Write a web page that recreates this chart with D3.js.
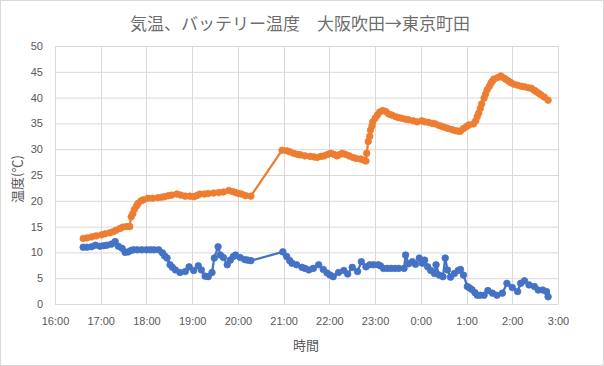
<!DOCTYPE html>
<html lang="ja">
<head>
    <meta charset="UTF-8">
    <title>気温、バッテリー温度 大阪吹田→東京町田</title>
    <script src="https://d3js.org/d3.v7.min.js"></script>
    <style>
        body {
            margin: 0;
            background-color: #ffffff;
        }
        .tick text {
            font-family: "Liberation Sans", Arial, sans-serif;
            font-size: 11px;
            fill: #595959;
        }
        .label {
            font-family: "Noto Sans CJK JP", sans-serif;
            fill: #595959;
        }
    </style>
</head>
<body>
    <svg id="chart" width="604" height="366"></svg>

    <script>
        const width = 604;
        const height = 366;
        const margin = { top: 46, right: 46, bottom: 62, left: 55 };

        // Battery temperature (orange)
        const batteryTimes = [
            "16:37", "16:42", "16:48", "16:54", "17:01", "17:06", "17:12", "17:16", "17:20", "17:25",
            "17:29", "17:34", "17:38", "17:40", "17:42", "17:44", "17:47", "17:49", "17:53", "17:56",
            "18:02", "18:08", "18:15", "18:20", "18:24", "18:29", "18:33", "18:40", "18:45", "18:51",
            "18:57", "19:02", "19:06", "19:10", "19:16", "19:21", "19:28", "19:35", "19:41", "19:48",
            "19:53", "19:57", "20:01", "20:05", "20:10", "20:17",
            "20:58", "21:04", "21:08", "21:13", "21:18", "21:22", "21:28", "21:35", "21:40", "21:44",
            "21:49", "21:53", "21:58", "22:02", "22:06", "22:10", "22:14", "22:17", "22:21", "22:26",
            "22:31", "22:35", "22:41", "22:45", "22:48", "22:49", "22:51", "22:53", "22:54", "22:56",
            "22:57", "23:00", "23:03", "23:06", "23:10", "23:14", "23:18", "23:22", "23:27", "23:31",
            "23:35", "23:40", "23:44", "23:50", "23:55", "0:01", "0:05", "0:10", "0:15", "0:19",
            "0:24", "0:28", "0:32", "0:36", "0:41", "0:45", "0:49", "0:52", "0:56", "1:00",
            "1:03", "1:09", "1:12", "1:14", "1:16", "1:18", "1:20", "1:23", "1:25", "1:27",
            "1:30", "1:32", "1:34", "1:36", "1:41", "1:45", "1:49", "1:52", "1:55", "1:58",
            "2:02", "2:07", "2:12", "2:16", "2:21", "2:25", "2:29", "2:32", "2:35", "2:38",
            "2:42", "2:47"
        ];
        const batteryTemps = [
            12.7, 12.8, 13.0, 13.2, 13.4, 13.6, 13.8, 14.0, 14.3, 14.6,
            14.9, 15.0, 15.0, 16.9, 17.5, 18.3, 19.0, 19.5, 20.0, 20.2,
            20.5, 20.5, 20.6, 20.7, 20.8, 21.0, 21.1, 21.3, 21.1, 20.9,
            20.9, 20.8, 21.0, 21.3, 21.3, 21.4, 21.5, 21.6, 21.7, 22.0,
            21.8, 21.6, 21.4, 21.3, 21.0, 20.9,
            29.8, 29.7, 29.5, 29.2, 29.0, 28.9, 28.7, 28.6, 28.5, 28.4,
            28.6, 28.7, 29.0, 29.2, 29.0, 28.7, 29.0, 29.2, 29.0, 28.7,
            28.4, 28.2, 28.1, 27.9, 27.7, 29.2, 31.5, 32.5, 33.7, 34.5,
            35.3, 36.0, 36.6, 37.2, 37.5, 37.3, 36.8, 36.6, 36.3, 36.1,
            36.0, 35.8, 35.7, 35.5, 35.3, 35.5, 35.3, 35.2, 35.0, 34.9,
            34.6, 34.4, 34.2, 34.0, 33.8, 33.6, 33.5, 33.5, 34.0, 34.4,
            34.7, 34.9, 35.5, 36.3, 37.0, 37.9, 38.8, 39.9, 40.7, 41.5,
            42.2, 42.8, 43.2, 43.6, 43.9, 44.2, 43.8, 43.5, 43.2, 42.9,
            42.6, 42.4, 42.2, 42.1, 41.9, 41.8, 41.4, 41.1, 40.8, 40.5,
            40.1, 39.5
        ];

        // Air temperature (blue)
        const airTimes = [
            "16:37", "16:42", "16:48", "16:53", "16:59", "17:04", "17:08", "17:14", "17:19", "17:23",
            "17:28", "17:32", "17:36", "17:40", "17:43", "17:48", "17:54", "18:00", "18:05", "18:10",
            "18:16", "18:21", "18:24", "18:27", "18:31", "18:34", "18:38", "18:44", "18:51", "18:56",
            "19:02", "19:08", "19:12", "19:17", "19:21", "19:26", "19:29", "19:34", "19:37", "19:41",
            "19:46", "19:50", "19:54", "19:57", "20:03", "20:09", "20:13", "20:17",
            "20:59", "21:04", "21:08", "21:11", "21:17", "21:24", "21:28", "21:33", "21:39", "21:46",
            "21:52", "21:57", "22:01", "22:05", "22:12", "22:19", "22:24", "22:30", "22:37", "22:42",
            "22:48", "22:53", "22:58", "23:04", "23:07", "23:11", "23:16", "23:21", "23:26", "23:31",
            "23:38", "23:40", "23:44", "23:49", "23:53", "23:58", "0:02", "0:05", "0:09", "0:13",
            "0:18", "0:20", "0:24", "0:29", "0:32", "0:35", "0:39", "0:44", "0:49", "0:52",
            "0:56", "1:01", "1:04", "1:07", "1:11", "1:14", "1:18", "1:23", "1:28", "1:34",
            "1:40", "1:47", "1:53", "2:00", "2:07", "2:11", "2:16", "2:22", "2:29", "2:34",
            "2:40", "2:45", "2:47"
        ];
        const airTemps = [
            11.0, 11.0, 11.1, 11.4, 11.2, 11.3, 11.4, 11.6, 12.1, 11.2,
            10.8, 10.0, 10.1, 10.4, 10.5, 10.5, 10.5, 10.5, 10.5, 10.5,
            10.5, 9.9, 9.3, 8.9, 7.6, 7.1, 6.6, 6.1, 6.3, 7.2,
            6.5, 7.4, 6.6, 5.4, 5.3, 6.1, 8.9, 11.1, 9.5, 9.0,
            7.6, 8.5, 9.2, 9.5, 9.0, 8.6, 8.5, 8.4,
            10.1, 9.2, 8.4, 7.9, 7.6, 7.1, 6.9, 6.6, 6.9, 7.6,
            6.7, 6.0, 5.6, 5.3, 6.1, 6.5, 5.8, 7.1, 6.3, 8.2,
            7.2, 7.6, 7.6, 7.6, 7.4, 6.9, 6.9, 6.9, 6.9, 6.9,
            6.9, 9.5, 7.8, 8.2, 7.7, 8.9, 7.9, 8.5, 7.2, 6.5,
            5.9, 7.6, 5.6, 5.3, 8.9, 6.6, 5.2, 5.9, 6.5, 6.7,
            5.6, 3.4, 3.1, 2.8, 2.2, 1.7, 1.7, 1.7, 2.6, 2.1,
            1.7, 2.1, 4.0, 3.2, 2.4, 4.0, 4.5, 3.7, 3.4, 2.7,
            2.7, 2.4, 1.4
        ];

        const yTicks = [0, 5, 10, 15, 20, 25, 30, 35, 40, 45, 50];

        // times before 16:00 belong to the next day
        function parseTime(s) {
            const [h, m] = s.split(":").map(Number);
            return new Date(2020, 0, h < 12 ? 2 : 1, h, m);
        }

        const battery = batteryTimes.map((t, i) => ({ t: parseTime(t), v: batteryTemps[i] }));
        const air = airTimes.map((t, i) => ({ t: parseTime(t), v: airTemps[i] }));

        const svg = d3.select("#chart");

        svg.append("rect")
            .attr("x", 0.5).attr("y", 0.5)
            .attr("width", width - 1).attr("height", height - 1)
            .attr("fill", "#fff")
            .attr("stroke", "#d9d9d9");

        const x = d3.scaleTime()
            .domain([new Date(2020, 0, 1, 16, 0), new Date(2020, 0, 2, 3, 0)])
            .range([margin.left, width - margin.right]);

        const y = d3.scaleLinear()
            .domain([0, 50])
            .range([height - margin.bottom, margin.top]);

        const xTicks = d3.timeHour.range(x.domain()[0], d3.timeMinute.offset(x.domain()[1], 1));

        // Gridlines
        svg.append("g")
            .selectAll("line.h")
            .data(yTicks)
            .join("line")
            .attr("x1", margin.left).attr("x2", width - margin.right)
            .attr("y1", d => y(d) + 0.5).attr("y2", d => y(d) + 0.5)
            .attr("stroke", "#d9d9d9");

        svg.append("g")
            .selectAll("line.v")
            .data(xTicks)
            .join("line")
            .attr("x1", d => Math.round(x(d)) + 0.5).attr("x2", d => Math.round(x(d)) + 0.5)
            .attr("y1", margin.top).attr("y2", height - margin.bottom)
            .attr("stroke", "#d9d9d9");

        // Axes (labels only)
        const xAxis = svg.append("g")
            .attr("transform", `translate(0,${height - margin.bottom})`)
            .call(d3.axisBottom(x).tickValues(xTicks).tickFormat(d3.timeFormat("%-H:%M")).tickSize(0).tickPadding(13));
        xAxis.select(".domain").remove();

        const yAxis = svg.append("g")
            .attr("transform", `translate(${margin.left},0)`)
            .call(d3.axisLeft(y).tickValues(yTicks).tickSize(0).tickPadding(12));
        yAxis.select(".domain").remove();

        // Series
        const line = d3.line().x(d => x(d.t)).y(d => y(d.v));
        const series = [
            { data: air, color: "#4472C4" },
            { data: battery, color: "#ED7D31" }
        ];

        series.forEach(s => {
            svg.append("path")
                .datum(s.data)
                .attr("d", line)
                .attr("fill", "none")
                .attr("stroke", s.color)
                .attr("stroke-width", 2.25)
                .attr("stroke-linejoin", "round");

            svg.append("g")
                .selectAll("circle")
                .data(s.data)
                .join("circle")
                .attr("cx", d => x(d.t))
                .attr("cy", d => y(d.v))
                .attr("r", 3.3)
                .attr("fill", s.color)
                .attr("stroke", s.color)
                .attr("stroke-width", 0.75);
        });

        // Titles
        svg.append("text")
            .attr("class", "label")
            .attr("x", 300).attr("y", 30)
            .attr("text-anchor", "middle")
            .attr("font-size", 17)
            .attr("fill-opacity", 0.9)
            .text("気温、バッテリー温度　大阪吹田→東京町田");

        svg.append("text")
            .attr("class", "label")
            .attr("x", 306).attr("y", 350)
            .attr("text-anchor", "middle")
            .attr("font-size", 13)
            .text("時間");

        svg.append("text")
            .attr("class", "label")
            .attr("transform", "translate(22,179) rotate(-90)")
            .attr("text-anchor", "middle")
            .attr("font-size", 13)
            .text("温度(℃)");
    </script>
</body>
</html>
